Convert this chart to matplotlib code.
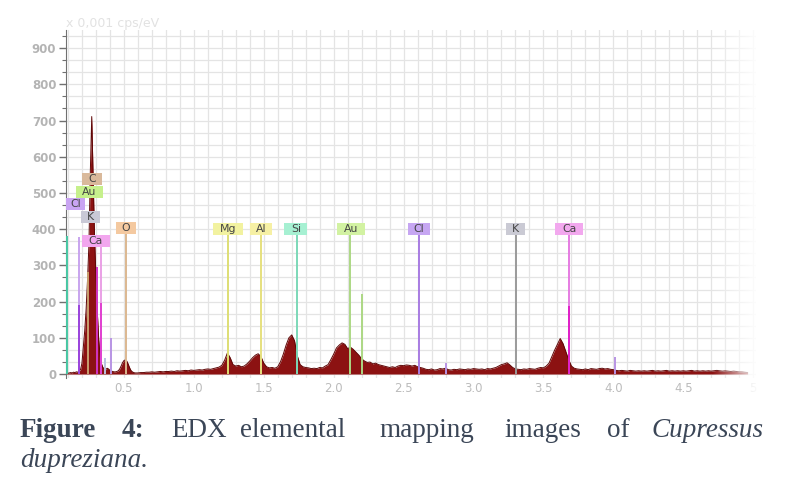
import numpy as np
import matplotlib
matplotlib.use("Agg")
import matplotlib.pyplot as plt
from matplotlib.patches import Rectangle
from matplotlib.ticker import MultipleLocator

# spectrum (keV, counts)
energy_fine = np.round(np.arange(0.09, 0.595, 0.01), 2)
counts_fine = [3,
               2, 3, 4, 3, 5, 4, 6, 5, 8, 12,
               30, 75, 120, 180, 260, 360, 560, 711, 540, 380,
               270, 170, 95, 50, 28, 18, 14, 12, 16, 14,
               10, 8, 7, 6, 6, 7, 9, 14, 22, 31,
               37, 39, 36, 28, 18, 10, 6, 4, 3, 3]

energy_coarse = np.round(np.arange(0.60, 4.965, 0.02), 2)
counts_coarse = [3, 4, 4, 5, 5, 6, 5, 6, 7, 6,          # 0.60
                 7, 7, 8, 7, 9, 8, 9, 10, 9, 11,        # 0.80
                 10, 11, 12, 11, 13, 14, 13, 15, 17, 19,  # 1.00
                 24, 38, 58, 45, 26, 22, 24, 20, 22, 28,  # 1.20
                 36, 45, 52, 56, 48, 30, 20, 17, 18, 16,  # 1.40
                 20, 34, 55, 80, 100, 108, 92, 50, 26, 20,  # 1.60
                 18, 17, 15, 16, 15, 18, 17, 22, 26, 40,  # 1.80
                 55, 72, 80, 86, 82, 70, 74, 68, 60, 52,  # 2.00
                 42, 36, 32, 33, 28, 30, 26, 24, 22, 20,  # 2.20
                 18, 20, 18, 22, 24, 23, 25, 24, 22, 24,  # 2.40
                 20, 18, 16, 13, 12, 14, 11, 12, 15, 14,  # 2.60
                 16, 12, 11, 13, 12, 14, 13, 12, 14, 13,  # 2.80
                 15, 14, 13, 14, 12, 15, 14, 16, 18, 22,  # 3.00
                 26, 28, 31, 25, 18, 14, 13, 12, 14, 13,  # 3.20
                 15, 14, 13, 16, 18, 17, 22, 30, 48, 66,  # 3.40
                 82, 98, 84, 62, 40, 22, 16, 14, 13, 12,  # 3.60
                 14, 12, 15, 14, 13, 15, 16, 14, 15, 13,  # 3.80
                 12, 10, 9, 10, 9, 8, 10, 9, 8, 9,        # 4.00
                 8, 9, 8, 9, 10, 8, 9, 8, 9, 10,          # 4.20
                 8, 9, 8, 9, 8, 9, 8, 9, 10, 8,           # 4.40
                 9, 8, 9, 8, 9, 8, 9, 10, 9, 8,           # 4.60
                 9, 8, 7, 8, 7, 6, 6, 5, 4]               # 4.80

energy = np.concatenate([energy_fine, energy_coarse])
counts = np.array(counts_fine + counts_coarse, dtype=float)

# element marker lines (keV, height)
line_energy = [0.09, 0.18, 0.18, 0.24, 0.305, 0.336, 0.336, 0.365, 0.41, 0.515,
               1.245, 1.48, 1.74, 2.12, 2.20, 2.61, 2.80, 3.305, 3.685, 3.685, 4.01]
line_top = [380, 378, 190, 282, 296, 353, 196, 45, 100, 386,
            384, 384, 384, 384, 220, 384, 30, 384, 384, 188, 47]
line_color = ['#48c8a4', '#c8a4ee', '#9a44dc', '#c8a070', '#d034c4', '#eaa0e6', '#e040d0',
              '#b8c4e0', '#b894e4', '#dcb890',
              '#dede74', '#e6e07e', '#7cd8b8', '#acd884', '#acd884', '#a87ce2', '#b894e4',
              '#9a9a9a', '#e67ce2', '#e020c8', '#b894e4']

# element labels
label_text = ['C', 'Au', 'Cl', 'K', 'Ca', 'O', 'Mg', 'Al', 'Si', 'Au', 'Cl', 'K', 'Ca']
label_energy = [0.272, 0.252, 0.157, 0.258, 0.30, 0.515, 1.245, 1.48, 1.73, 2.125, 2.61, 3.30, 3.684]
label_level = [539, 503, 470, 434, 367, 402, 400, 400, 400, 400, 400, 400, 400]
label_face = ['#d9b99b', '#c6f08c', '#c9a4f2', '#c9c9d6', '#f2a6ee', '#f4c9a0', '#f2f2a0',
              '#f6f0a4', '#a6f0d2', '#d2f2a2', '#c6a6f2', '#cacad4', '#f2a8ee']
label_wpx = [20, 27, 19, 19, 28, 20, 30, 22, 23, 28, 22, 19, 28]

yticks = [0, 100, 200, 300, 400, 500, 600, 700, 800, 900]
xticks = [0.5, 1.0, 1.5, 2.0, 2.5, 3.0, 3.5, 4.0, 4.5, 5.0]
xtick_labels = ['0.5', '1.0', '1.5', '2.0', '2.5', '3.0', '3.5', '4.0', '4.5', '5']

W, H = 785, 495
fig = plt.figure(figsize=(W / 100, H / 100), dpi=100)
ax = fig.add_axes([66 / W, 1 - 378 / H, (756 - 66) / W, (378 - 30) / H])
ax.set_xlim(0.086, 5.02)
ax.set_ylim(-11, 950)

kev_per_px = 1 / 139.8
cnt_per_px = 1 / 0.362

ax.xaxis.set_minor_locator(MultipleLocator(0.1))
ax.yaxis.set_minor_locator(MultipleLocator(100 / 3))
ax.grid(which='both', color='#e4e4e4', lw=0.9)
ax.set_axisbelow(True)

ax.fill_between(energy, 0, counts, color='#8c1212', lw=0, zorder=2)
ax.plot(energy, counts, color='#5e0606', lw=0.7, zorder=3)

for e, top, c in zip(line_energy, line_top, line_color):
    ax.plot([e, e], [0, top], color=c, lw=1.4, zorder=4, solid_capstyle='butt')

for t, e, lv, fc, wpx in zip(label_text, label_energy, label_level, label_face, label_wpx):
    w = wpx * kev_per_px
    h = 12 * cnt_per_px
    ax.add_patch(Rectangle((e - w / 2, lv - h / 2), w, h, facecolor=fc, edgecolor='none', zorder=5))
    ax.text(e, lv, t, ha='center', va='center', fontsize=7.8, color='#444444', zorder=6,
            family='DejaVu Sans')

ax.set_yticks(yticks)
ax.set_yticklabels([str(v) for v in yticks], color='#b4b4b4', fontsize=8.5, fontweight='bold')
ax.set_xticks(xticks)
ax.set_xticklabels(xtick_labels, color='#bcbcbc', fontsize=8.5)
ax.tick_params(axis='y', which='major', length=5, width=1, color='#707070', direction='out', pad=2)
ax.tick_params(axis='y', which='minor', length=3, width=0.8, color='#707070', direction='out')
ax.tick_params(axis='x', which='both', length=0, pad=3)
for s in ['top', 'right', 'bottom']:
    ax.spines[s].set_visible(False)
ax.spines['left'].set_color('#707070')

fig.text(66 / W, 1 - 24 / H, 'x 0,001 cps/eV', color='#e2e2e2', fontsize=9, va='center')

# fade on the right edge
fade = fig.add_axes([712 / W, 1 - 395 / H, (790 - 712) / W, (395 - 15) / H])
grad = np.ones((2, 100, 4))
grad[:, :, 3] = np.clip(np.linspace(0, 1.6, 100), 0, 1)
fade.imshow(grad, aspect='auto', extent=[0, 1, 0, 1])
fade.axis('off')

# caption
cap_color = '#3b4657'
cap_font = 'Liberation Serif'
fs = 19.5
y1 = 1 - 437 / H
y2 = 1 - 467 / H
fig.text(20 / W, y1, 'Figure', fontsize=fs, fontweight='bold', color=cap_color, family=cap_font)
fig.text(122 / W, y1, '4:', fontsize=fs, fontweight='bold', color=cap_color, family=cap_font)
words = [('EDX', 171), ('elemental', 240), ('mapping', 379), ('images', 504), ('of', 607)]
for wd, xp in words:
    fig.text(xp / W, y1, wd, fontsize=fs, color=cap_color, family=cap_font)
fig.text(763 / W, y1, 'Cupressus', fontsize=fs, style='italic', color=cap_color, family=cap_font,
         ha='right')
fig.text(20 / W, y2, 'dupreziana.', fontsize=fs, style='italic', color=cap_color, family=cap_font)

fig.savefig('out.png', dpi=100)
